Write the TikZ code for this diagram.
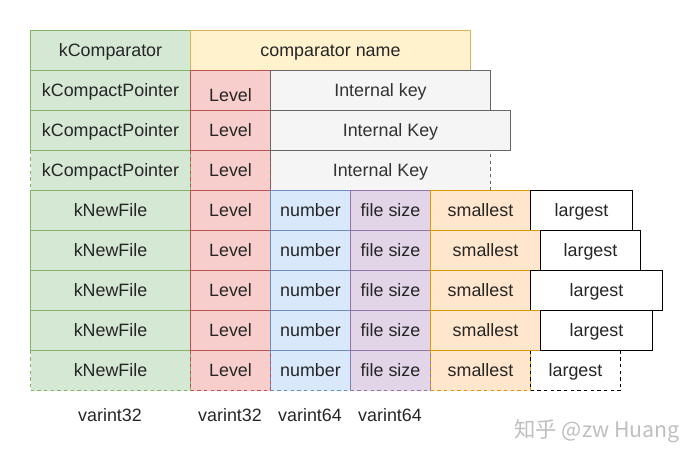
\documentclass[tikz,border=0pt]{standalone}
\usepackage{fontspec}
\setmainfont{Liberation Sans}
\newfontfamily\cjk{Noto Sans CJK SC}

\definecolor{greenFill}{HTML}{D5E8D4}
\definecolor{greenLine}{HTML}{82B366}
\definecolor{yellowFill}{HTML}{FFF2CC}
\definecolor{yellowLine}{HTML}{D6B656}
\definecolor{redFill}{HTML}{F8CECC}
\definecolor{redLine}{HTML}{B85450}
\definecolor{greyFill}{HTML}{F5F5F5}
\definecolor{greyLine}{HTML}{666666}
\definecolor{blueFill}{HTML}{DAE8FC}
\definecolor{blueLine}{HTML}{6C8EBF}
\definecolor{purpleFill}{HTML}{E1D5E7}
\definecolor{purpleLine}{HTML}{9673A6}
\definecolor{orangeFill}{HTML}{FFE6CC}
\definecolor{orangeLine}{HTML}{D79B00}
\definecolor{textGrey}{HTML}{333333}

\begin{document}
\begin{tikzpicture}[
    x=0.75pt, y=-0.75pt,
    line width=0.75pt,
    cell/.style={draw, inner sep=0pt, anchor=north west,
        minimum height=30pt, text=black!85,
        text height=9.6pt, text depth=0pt,
        font=\fontsize{13.4}{16}\selectfont},
    cw/.style={minimum width=#1*0.75pt},
    dashcell/.style={dash pattern=on 2.5pt off 2.5pt},
    greencell/.style={cell, fill=greenFill, draw=greenLine, cw=160},
    yellowcell/.style={cell, fill=yellowFill, draw=yellowLine},
    redcell/.style={cell, fill=redFill, draw=redLine, cw=80},
    greycell/.style={cell, fill=greyFill, draw=greyLine, text=textGrey},
    bluecell/.style={cell, fill=blueFill, draw=blueLine, cw=80},
    purplecell/.style={cell, fill=purpleFill, draw=purpleLine, cw=80},
    orangecell/.style={cell, fill=orangeFill, draw=orangeLine},
    whitecell/.style={cell, fill=white, draw=black},
    typelabel/.style={font=\fontsize{13.4}{16}\selectfont, text=black!85},
]

    \useasboundingbox (0,0) rectangle (692,461);

    % dashed rows first, so the solid borders sit on top
    \node[greencell, dashcell] (cp3) at (30,150) {kCompactPointer};
    \node[redcell, dashcell] (cp3-lvl) at (190,150) {Level};
    \node[greycell, dashcell, cw=220] (cp3-key) at (270,150) {Internal Key};

    \node[greencell, dashcell] (nf5) at (30,350) {kNewFile};
    \node[redcell, dashcell] (nf5-lvl) at (190,350) {Level};
    \node[bluecell, dashcell] (nf5-num) at (270,350) {number};
    \node[purplecell, dashcell] (nf5-size) at (350,350) {file size};
    \node[orangecell, dashcell, cw=100] (nf5-small) at (430,350) {smallest};
    \node[whitecell, dashcell, cw=90] (nf5-large) at (530,350) {largest};

    % comparator
    \node[greencell] (cmp) at (30,30) {kComparator};
    \node[yellowcell, cw=280] (cmp-name) at (190,30) {comparator name};

    % compact pointers
    \node[greencell] (cp1) at (30,70) {kCompactPointer};
    \node[redcell, text height=17pt] (cp1-lvl) at (190,70) {Level};
    \node[greycell, cw=220] (cp1-key) at (270,70) {Internal key};

    \node[greencell] (cp2) at (30,110) {kCompactPointer};
    \node[redcell] (cp2-lvl) at (190,110) {Level};
    \node[greycell, cw=240] (cp2-key) at (270,110) {Internal Key};

    % new files
    \foreach \r/\y/\sw/\lw in {1/190/100/102, 2/230/110/100, 3/270/100/132, 4/310/110/112} {
        \node[greencell] (nf\r) at (30,\y) {kNewFile};
        \node[redcell] (nf\r-lvl) at (190,\y) {Level};
        \node[bluecell] (nf\r-num) at (270,\y) {number};
        \node[purplecell] (nf\r-size) at (350,\y) {file size};
        \node[orangecell, cw=\sw] (nf\r-small) at (430,\y) {smallest};
        \node[whitecell, cw=\lw] (nf\r-large) at (430+\sw,\y) {largest};
    }

    % field types
    \node[typelabel] (type-tag) at (110,415) {varint32};
    \node[typelabel] (type-lvl) at (230,415) {varint32};
    \node[typelabel] (type-num) at (310,415) {varint64};
    \node[typelabel] (type-size) at (390,415) {varint64};

    \node[font=\cjk\fontsize{16}{18}\selectfont, text=black!25] (mark) at (597,431) {知乎 @zw Huang};

\end{tikzpicture}
\end{document}
